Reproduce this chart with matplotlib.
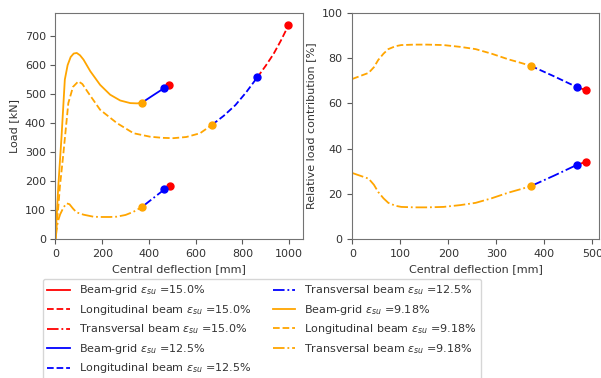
import matplotlib
matplotlib.use("Agg")
import matplotlib.pyplot as plt

# ---- load vs. central deflection (left panel) ----
grid_918_x = [0, 12, 26, 40, 52, 65, 78, 91, 105, 120, 149, 191, 234, 277, 320, 350, 371]
grid_918_y = [0, 181, 354, 550, 600, 628, 640, 642, 634, 619, 579, 532, 498, 478, 469, 468, 471]
grid_125_x = [371, 420, 466]
grid_125_y = [471, 497, 521]
grid_150_x = [466, 486]
grid_150_y = [521, 530]

long_918_x = [0, 10, 19, 34, 55, 75, 98, 115, 140, 191, 263, 334, 405, 460, 505, 560, 619, 670]
long_918_y = [0, 90, 181, 296, 469, 525, 544, 535, 505, 446, 400, 365, 353, 349, 348, 352, 365, 394]
long_125_x = [670, 720, 770, 815, 864]
long_125_y = [394, 425, 462, 505, 558]
long_150_x = [864, 900, 933, 965, 997]
long_150_y = [558, 598, 638, 685, 737]

trans_918_x = [0, 5, 10, 20, 35, 48, 60, 75, 90, 120, 162, 191, 233, 262, 300, 334, 371]
trans_918_y = [0, 30, 60, 85, 110, 123, 120, 105, 92, 84, 77, 76, 76, 77, 83, 94, 111]
trans_125_x = [371, 420, 466]
trans_125_y = [111, 142, 171]
trans_150_x = [466, 490]
trans_150_y = [171, 184]

# ---- relative load contribution (right panel) ----
rel_x_918 = [0, 15, 34, 45, 54, 65, 75, 90, 102, 130, 156, 190, 225, 257, 290, 325, 350, 372]
rel_long_918 = [70.8, 72, 73.5, 76, 79.2, 82, 84, 85.3, 85.8, 86, 86, 85.8, 85, 84, 82, 79.5, 78, 76.6]
rel_trans_918 = [29.2, 28.1, 26.7, 24, 20.8, 18, 16, 14.7, 14.2, 14, 14, 14.2, 15, 16, 18, 20.5, 22, 23.4]
rel_x_125 = [372, 420, 468]
rel_long_125 = [76.6, 72, 67.2]
rel_trans_125 = [23.4, 28, 32.8]
rel_x_150 = [468, 486]
rel_long_150 = [67.2, 65.9]
rel_trans_150 = [32.8, 34.1]

plt.rcParams["font.size"] = 8
plt.rcParams["text.color"] = "0.2"
plt.rcParams["axes.labelcolor"] = "0.2"
plt.rcParams["xtick.color"] = "0.35"
plt.rcParams["ytick.color"] = "0.35"
plt.rcParams["xtick.labelcolor"] = "0.2"
plt.rcParams["ytick.labelcolor"] = "0.2"
plt.rcParams["axes.edgecolor"] = "0.45"

fig = plt.figure(figsize=(6.01, 3.78), dpi=100)
ax1 = fig.add_axes([0.0923, 0.3677, 0.4113, 0.598])
ax2 = fig.add_axes([0.5862, 0.3677, 0.4105, 0.598])

lw = 1.3
ms = 5
eps = r"$\varepsilon_{su}$"


def seg(ax, x, y, color, ls, label=None):
    ax.plot(x, y, color=color, ls=ls, lw=lw, label=label)
    ax.plot(x[-1], y[-1], "o", color=color, ms=ms, zorder=5)


seg(ax1, grid_150_x, grid_150_y, "red", "-", "Beam-grid " + eps + " =15.0%")
seg(ax1, long_150_x, long_150_y, "red", "--", "Longitudinal beam " + eps + " =15.0%")
seg(ax1, trans_150_x, trans_150_y, "red", "-.", "Transversal beam " + eps + " =15.0%")
seg(ax1, grid_125_x, grid_125_y, "blue", "-", "Beam-grid " + eps + " =12.5%")
seg(ax1, long_125_x, long_125_y, "blue", "--", "Longitudinal beam " + eps + " =12.5%")
seg(ax1, trans_125_x, trans_125_y, "blue", "-.", "Transversal beam " + eps + " =12.5%")
seg(ax1, grid_918_x, grid_918_y, "orange", "-", "Beam-grid " + eps + " =9.18%")
seg(ax1, long_918_x, long_918_y, "orange", "--", "Longitudinal beam " + eps + " =9.18%")
seg(ax1, trans_918_x, trans_918_y, "orange", "-.", "Transversal beam " + eps + " =9.18%")

seg(ax2, rel_x_150, rel_long_150, "red", "--")
seg(ax2, rel_x_150, rel_trans_150, "red", "-.")
seg(ax2, rel_x_125, rel_long_125, "blue", "--")
seg(ax2, rel_x_125, rel_trans_125, "blue", "-.")
seg(ax2, rel_x_918, rel_long_918, "orange", "--")
seg(ax2, rel_x_918, rel_trans_918, "orange", "-.")

ax1.set_xlim(0, 1058)
ax1.set_ylim(0, 780)
ax1.set_xlabel("Central deflection [mm]")
ax1.set_ylabel("Load [kN]")

ax2.set_xlim(0, 514)
ax2.set_ylim(0, 100)
ax2.set_xlabel("Central deflection [mm]")
ax2.set_ylabel("Relative load contribution [%]")

handles, labels = ax1.get_legend_handles_labels()
fig.legend(handles, labels, ncol=2, loc="upper left",
           bbox_to_anchor=(43 / 601, 1 - 279 / 378), borderaxespad=0)

fig.savefig("out.png", dpi=100)
